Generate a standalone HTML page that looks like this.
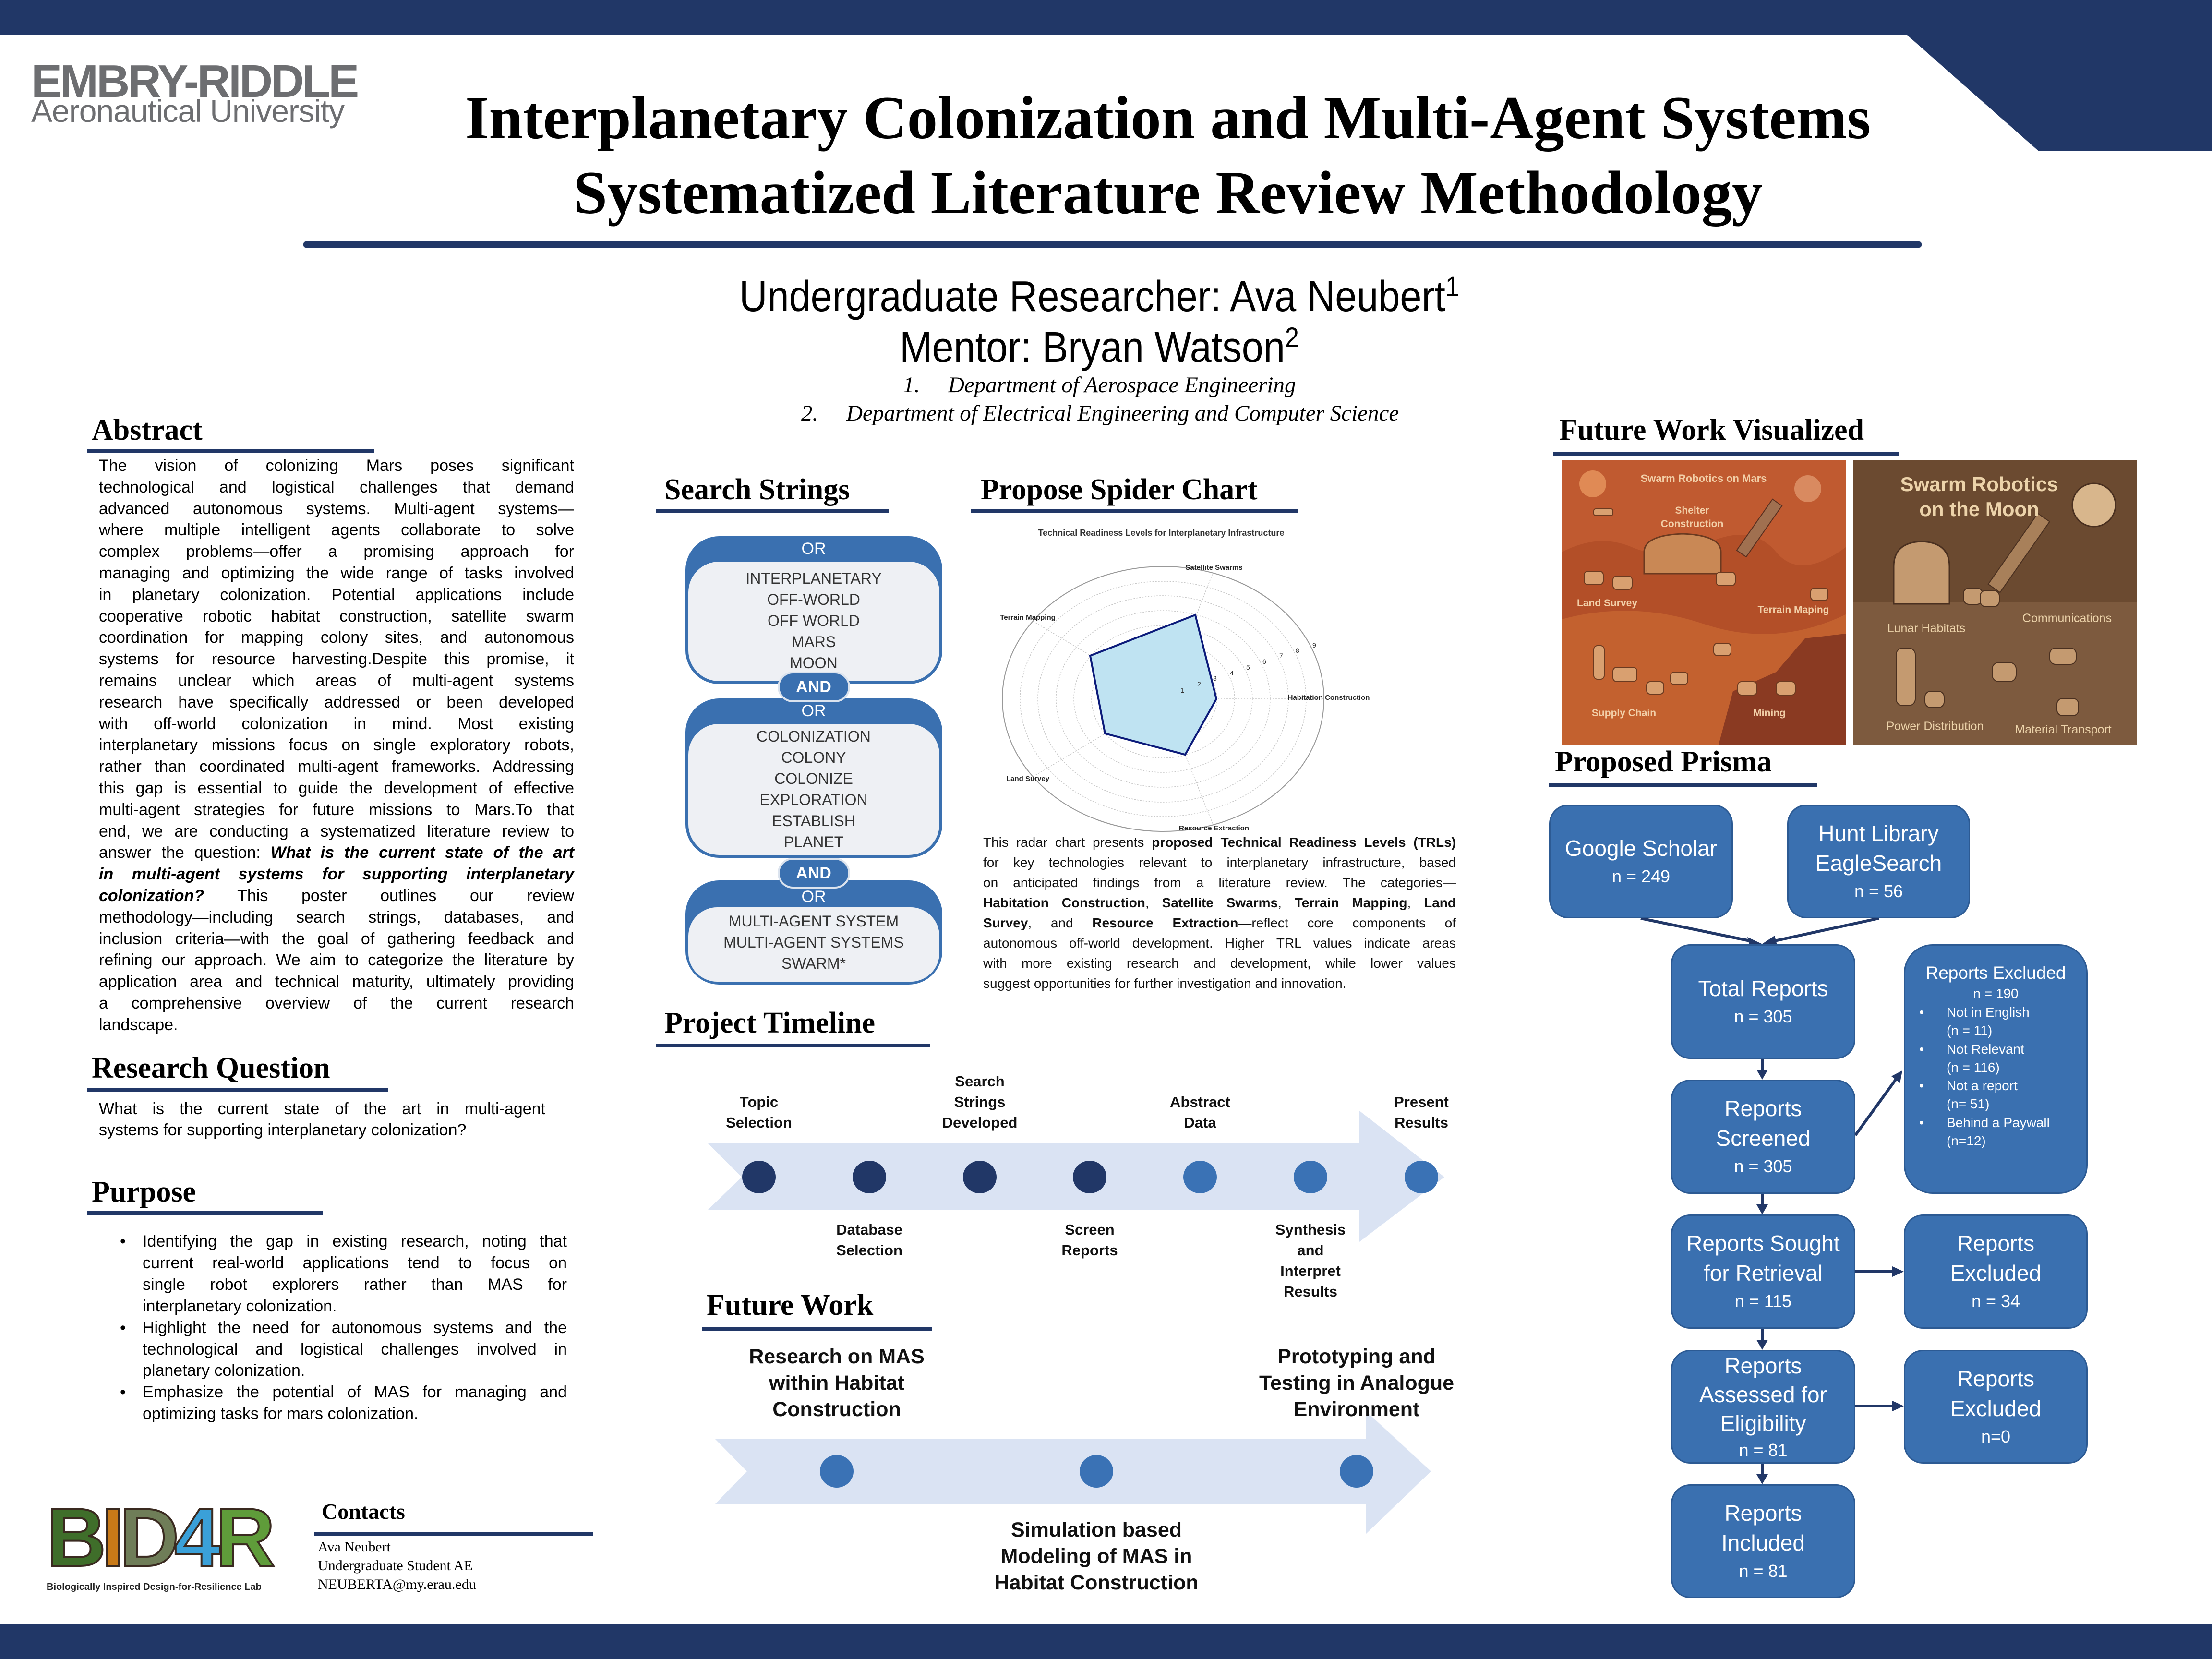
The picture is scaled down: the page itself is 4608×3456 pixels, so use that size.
<!DOCTYPE html>
<html><head><meta charset="utf-8">
<style>
*{margin:0;padding:0;box-sizing:border-box}
body{width:4608px;height:3456px;position:relative;background:#fff;overflow:hidden;font-family:"Liberation Sans",sans-serif;color:#000}
.a{position:absolute;white-space:nowrap}
.c{transform:translateX(-50%);text-align:center}
.h{font-family:"Liberation Serif",serif;font-weight:bold;font-size:62px;line-height:70px}
.j{display:block;text-align:justify;text-align-last:justify;white-space:nowrap}
.l{display:block;text-align:left}
.box{position:absolute;background:#3a70b0;border:3px solid #2c5a93;border-radius:40px;color:#fff;display:flex;flex-direction:column;align-items:center;justify-content:center;text-align:center;font-size:46px;line-height:62px}
.box .n{font-size:36px;line-height:56px}
.sw{font-size:32px;color:#333;line-height:44px;text-align:center}
.tl{font-weight:bold;font-size:31px;line-height:43px;text-align:center;color:#111}
.fw{font-weight:bold;font-size:43px;line-height:55px;text-align:center;color:#111}
</style></head><body>
<svg class="a" style="left:0;top:0" width="4608" height="3456" viewBox="0 0 4608 3456">
<rect x="0" y="0" width="4608" height="73" fill="#213767"/>
<polygon points="3973,73 4608,73 4608,315 4247,315" fill="#213767"/>
<rect x="0" y="3383" width="4608" height="73" fill="#213767"/>
<rect x="632" y="503" width="3371" height="13" rx="5" fill="#213767"/>
<rect x="182" y="936" width="597" height="8" fill="#213767"/>
<rect x="182" y="2266" width="626" height="8" fill="#213767"/>
<rect x="182" y="2523" width="490" height="8" fill="#213767"/>
<rect x="1367" y="1060" width="485" height="8" fill="#213767"/>
<rect x="2022" y="1060" width="682" height="8" fill="#213767"/>
<rect x="1367" y="2174" width="570" height="8" fill="#213767"/>
<rect x="1462" y="2764" width="479" height="8" fill="#213767"/>
<rect x="3236" y="941" width="721" height="8" fill="#213767"/>
<rect x="3227" y="1632" width="559" height="8" fill="#213767"/>
<rect x="655" y="3191" width="580" height="8" fill="#213767"/>
<g>
<rect x="1428" y="1117" width="535" height="308" rx="70" fill="#3a70b0"/>
<rect x="1434" y="1170" width="523" height="249" rx="64" fill="#eef0f4"/>
<rect x="1428" y="1455" width="535" height="332" rx="70" fill="#3a70b0"/>
<rect x="1434" y="1508" width="523" height="273" rx="64" fill="#eef0f4"/>
<rect x="1428" y="1834" width="535" height="217" rx="70" fill="#3a70b0"/>
<rect x="1434" y="1890" width="523" height="155" rx="60" fill="#eef0f4"/>
<rect x="1622" y="1401" width="147" height="60" rx="30" fill="#3a70b0" stroke="#dbe3ee" stroke-width="4"/>
<rect x="1622" y="1789" width="147" height="60" rx="30" fill="#3a70b0" stroke="#dbe3ee" stroke-width="4"/>
</g>
<g fill="none" stroke="#c8c8c8" stroke-width="1.5" stroke-dasharray="3,3">
<ellipse cx="2423" cy="1456" rx="37" ry="31"/><ellipse cx="2423" cy="1456" rx="74" ry="61"/>
<ellipse cx="2423" cy="1456" rx="112" ry="92"/><ellipse cx="2423" cy="1456" rx="149" ry="123"/>
<ellipse cx="2423" cy="1456" rx="186" ry="153"/><ellipse cx="2423" cy="1456" rx="223" ry="184"/>
<ellipse cx="2423" cy="1456" rx="261" ry="215"/><ellipse cx="2423" cy="1456" rx="298" ry="245"/>
<line x1="2423" y1="1456" x2="2758" y2="1456"/><line x1="2423" y1="1456" x2="2527" y2="1193"/>
<line x1="2423" y1="1456" x2="2152" y2="1294"/><line x1="2423" y1="1456" x2="2152" y2="1618"/>
<line x1="2423" y1="1456" x2="2527" y2="1718"/>
</g>
<ellipse cx="2423" cy="1456" rx="335" ry="276" fill="none" stroke="#999" stroke-width="2"/>
<polygon points="2534,1456 2490,1281 2271,1366 2302,1528 2469,1572" fill="#bfe3f2" stroke="#0b1a7a" stroke-width="4"/>
<polygon points="1475,2382 2832,2382 2832,2314 3009,2452 2832,2587 2832,2520 1475,2520 1545,2452" fill="#dae3f3"/>
<g fill="#213767"><ellipse cx="1581" cy="2452" rx="35" ry="34"/><ellipse cx="1811" cy="2452" rx="35" ry="34"/><ellipse cx="2041" cy="2452" rx="35" ry="34"/><ellipse cx="2270" cy="2452" rx="35" ry="34"/></g>
<g fill="#3a72b5"><ellipse cx="2500" cy="2452" rx="35" ry="34"/><ellipse cx="2730" cy="2452" rx="35" ry="34"/><ellipse cx="2961" cy="2452" rx="35" ry="34"/></g>
<polygon points="1489,2997 2846,2997 2846,2940 2981,3065 2846,3195 2846,3134 1489,3134 1556,3065" fill="#dae3f3"/>
<g fill="#3a72b5"><ellipse cx="1743" cy="3065" rx="35" ry="34"/><ellipse cx="2284" cy="3065" rx="35" ry="34"/><ellipse cx="2826" cy="3065" rx="35" ry="34"/></g>
<rect x="3254" y="959" width="591" height="593" fill="#c05a30"/>
<path d="M3254,1150 Q3330,1110 3400,1140 T3560,1130 T3700,1150 T3845,1140 L3845,1552 L3254,1552Z" fill="#b34f28"/>
<path d="M3254,1290 Q3400,1250 3550,1300 T3845,1280 L3845,1552 L3254,1552Z" fill="#c3612f"/>
<path d="M3580,1552 L3610,1440 L3700,1400 L3760,1330 L3845,1320 L3845,1552Z" fill="#8a3a22"/>
<circle cx="3318" cy="1008" r="28" fill="#e08a55"/>
<circle cx="3766" cy="1018" r="28" fill="#d98a60"/>
<path d="M3425,1195 L3425,1150 Q3425,1115 3505,1112 Q3585,1115 3585,1150 L3585,1195Z" fill="#c98855" stroke="#6b3a20" stroke-width="3"/>
<g fill="#d9a070" stroke="#6b3a20" stroke-width="2">
<rect x="3300" y="1190" width="40" height="28" rx="8"/><rect x="3360" y="1200" width="40" height="28" rx="8"/>
<rect x="3575" y="1192" width="40" height="28" rx="8"/><rect x="3772" y="1225" width="36" height="26" rx="8"/>
<rect x="3570" y="1340" width="36" height="26" rx="8"/><rect x="3360" y="1390" width="50" height="30" rx="8"/>
<rect x="3430" y="1420" width="36" height="26" rx="8"/><rect x="3480" y="1400" width="36" height="26" rx="8"/>
<rect x="3620" y="1420" width="40" height="28" rx="8"/><rect x="3700" y="1420" width="40" height="28" rx="8"/>
<rect x="3320" y="1345" width="22" height="70" rx="8"/>
<rect x="3320" y="1060" width="40" height="14" rx="4"/>
</g>
<g transform="rotate(-55 3665 1100)"><rect x="3600" y="1088" width="130" height="24" fill="#a07050" stroke="#5a3020" stroke-width="2"/></g>
<rect x="3861" y="959" width="591" height="593" fill="#6b4a30"/>
<rect x="3861" y="1254" width="591" height="298" fill="#7d5a3e"/>
<circle cx="4362" cy="1052" r="45" fill="#d8b68c" stroke="#4a3020" stroke-width="3"/>
<path d="M3945,1258 L3945,1180 Q3945,1130 4003,1128 Q4061,1130 4061,1180 L4061,1258Z" fill="#c49a70" stroke="#4a3020" stroke-width="3"/>
<g transform="rotate(-55 4200 1160)"><rect x="4120" y="1145" width="180" height="30" fill="#a8805a" stroke="#4a3020" stroke-width="2"/></g>
<g fill="#c49a70" stroke="#4a3020" stroke-width="2">
<rect x="4090" y="1225" width="40" height="34" rx="12"/><rect x="4125" y="1230" width="40" height="34" rx="12"/>
<rect x="3950" y="1350" width="40" height="120" rx="14"/><rect x="4010" y="1440" width="40" height="34" rx="12"/>
<rect x="4150" y="1380" width="50" height="40" rx="14"/><rect x="4270" y="1350" width="55" height="34" rx="12"/>
<rect x="4285" y="1455" width="45" height="36" rx="12"/>
</g>
<g stroke="#213767" stroke-width="6" fill="none">
<line x1="3418" y1="1913" x2="3655" y2="1962"/><line x1="3914" y1="1913" x2="3688" y2="1962"/>
<line x1="3671" y1="2206" x2="3671" y2="2232"/><line x1="3671" y1="2487" x2="3671" y2="2513"/>
<line x1="3671" y1="2768" x2="3671" y2="2795"/><line x1="3671" y1="3049" x2="3671" y2="3075"/>
<line x1="3865" y1="2365" x2="3952" y2="2245"/>
<line x1="3865" y1="2649" x2="3945" y2="2649"/><line x1="3865" y1="2929" x2="3945" y2="2929"/>
</g>
<g fill="#213767">
<polygon points="3672,1967 3640,1952 3645,1972"/><polygon points="3670,1967 3697,1949 3702,1969"/>
<polygon points="3671,2249 3659,2228 3683,2228"/><polygon points="3671,2530 3659,2509 3683,2509"/>
<polygon points="3671,2812 3659,2791 3683,2791"/><polygon points="3671,3092 3659,3071 3683,3071"/>
<polygon points="3963,2230 3940,2242 3958,2256"/>
<polygon points="3966,2649 3942,2638 3942,2660"/><polygon points="3966,2929 3942,2918 3942,2940"/>
</g>
</svg>

<div class="a" style="left:65px;top:128px;font-size:96px;font-weight:bold;color:#6d6e71;letter-spacing:-4px;line-height:84px;transform-origin:0 0;transform:scaleX(1.0)">EMBRY-RIDDLE</div>
<div class="a" style="left:65px;top:198px;font-size:66px;color:#6d6e71;line-height:66px;letter-spacing:-1px">Aeronautical University</div>
<div class="a c h" style="left:2433px;top:173px;font-size:127px;line-height:146px">Interplanetary Colonization and Multi-Agent Systems</div>
<div class="a c h" style="left:2433px;top:329px;font-size:127px;line-height:146px">Systematized Literature Review Methodology</div>
<div class="a" style="left:2290px;top:548px;font-size:90px;line-height:100px;transform:translateX(-50%) scaleX(0.9)">Undergraduate Researcher: Ava Neubert<sup style="font-size:58px">1</sup></div>
<div class="a" style="left:2290px;top:654px;font-size:90px;line-height:100px;transform:translateX(-50%) scaleX(0.9)">Mentor: Bryan Watson<sup style="font-size:58px">2</sup></div>
<div class="a" style="left:1881px;top:776px;font-family:'Liberation Serif',serif;font-style:italic;font-size:47px;line-height:52px">1.&nbsp;&nbsp;&nbsp;&nbsp;&nbsp;Department of Aerospace Engineering</div>
<div class="a" style="left:1669px;top:835px;font-family:'Liberation Serif',serif;font-style:italic;font-size:47px;line-height:52px">2.&nbsp;&nbsp;&nbsp;&nbsp;&nbsp;Department of Electrical Engineering and Computer Science</div>

<div class="a h" style="left:191px;top:861px">Abstract</div>
<div class="a" style="left:206px;top:948px;width:990px;font-size:34px;line-height:44.8px">
<span class="j">The vision of colonizing Mars poses significant</span>
<span class="j">technological and logistical challenges that demand</span>
<span class="j">advanced autonomous systems. Multi-agent systems—</span>
<span class="j">where multiple intelligent agents collaborate to solve</span>
<span class="j">complex problems—offer a promising approach for</span>
<span class="j">managing and optimizing the wide range of tasks involved</span>
<span class="j">in planetary colonization. Potential applications include</span>
<span class="j">cooperative robotic habitat construction, satellite swarm</span>
<span class="j">coordination for mapping colony sites, and autonomous</span>
<span class="j">systems for resource harvesting.Despite this promise, it</span>
<span class="j">remains unclear which areas of multi-agent systems</span>
<span class="j">research have specifically addressed or been developed</span>
<span class="j">with off-world colonization in mind. Most existing</span>
<span class="j">interplanetary missions focus on single exploratory robots,</span>
<span class="j">rather than coordinated multi-agent frameworks. Addressing</span>
<span class="j">this gap is essential to guide the development of effective</span>
<span class="j">multi-agent strategies for future missions to Mars.To that</span>
<span class="j">end, we are conducting a systematized literature review to</span>
<span class="j">answer the question: <b><i>What is the current state of the art</i></b></span>
<span class="j"><b><i>in multi-agent systems for supporting interplanetary</i></b></span>
<span class="j"><b><i>colonization?</i></b> This poster outlines our review</span>
<span class="j">methodology—including search strings, databases, and</span>
<span class="j">inclusion criteria—with the goal of gathering feedback and</span>
<span class="j">refining our approach. We aim to categorize the literature by</span>
<span class="j">application area and technical maturity, ultimately providing</span>
<span class="j">a comprehensive overview of the current research</span>
<span class="l">landscape.</span>
</div>
<div class="a h" style="left:191px;top:2190px">Research Question</div>
<div class="a" style="left:206px;top:2288px;width:930px;font-size:34px;line-height:44px">
<span class="j">What is the current state of the art in multi-agent</span>
<span class="l">systems for supporting interplanetary colonization?</span>
</div>
<div class="a h" style="left:191px;top:2448px">Purpose</div>
<div class="a" style="left:250px;top:2564px;font-size:34px;line-height:44.9px">•<br><br><br><br>•<br><br><br>•</div>
<div class="a" style="left:297px;top:2564px;width:884px;font-size:34px;line-height:44.9px">
<span class="j">Identifying the gap in existing research, noting that</span>
<span class="j">current real-world applications tend to focus on</span>
<span class="j">single robot explorers rather than MAS for</span>
<span class="l">interplanetary colonization.</span>
<span class="j">Highlight the need for autonomous systems and the</span>
<span class="j">technological and logistical challenges involved in</span>
<span class="l">planetary colonization.</span>
<span class="j">Emphasize the potential of MAS for managing and</span>
<span class="l">optimizing tasks for mars colonization.</span>
</div>
<div class="a" style="left:97px;top:3118px;font-size:172px;font-weight:bold;line-height:170px;letter-spacing:-10px;-webkit-text-stroke:4px #3a2a20"><span style="color:#3f6e2a">B</span><span style="color:#c97a18">I</span><span style="color:#6f7d58">D</span><span style="color:#3aa0d8">4</span><span style="color:#5f9c3a">R</span></div>
<div class="a" style="left:97px;top:3292px;font-size:20px;font-weight:bold;line-height:28px;color:#222">Biologically Inspired Design-for-Resilience Lab</div>
<div class="a" style="left:670px;top:3124px;font-family:'Liberation Serif',serif;font-weight:bold;font-size:46px;line-height:50px">Contacts</div>
<div class="a" style="left:662px;top:3203px;font-family:'Liberation Serif',serif;font-size:30px;line-height:39px">Ava Neubert<br>Undergraduate Student AE<br>NEUBERTA@my.erau.edu</div>

<div class="a h" style="left:1384px;top:985px">Search Strings</div>
<div class="a h" style="left:2043px;top:985px">Propose Spider Chart</div>
<div class="a" style="left:1695px;top:1121px;transform:translateX(-50%);font-size:34px;color:#fff;line-height:44px">OR</div>
<div class="a sw" style="left:1695px;top:1183px;transform:translateX(-50%)">INTERPLANETARY<br>OFF-WORLD<br>OFF WORLD<br>MARS<br>MOON</div>
<div class="a" style="left:1695px;top:1409px;transform:translateX(-50%);font-size:34px;font-weight:bold;color:#fff;line-height:44px">AND</div>
<div class="a" style="left:1695px;top:1459px;transform:translateX(-50%);font-size:34px;color:#fff;line-height:44px">OR</div>
<div class="a sw" style="left:1695px;top:1512px;transform:translateX(-50%)">COLONIZATION<br>COLONY<br>COLONIZE<br>EXPLORATION<br>ESTABLISH<br>PLANET</div>
<div class="a" style="left:1695px;top:1797px;transform:translateX(-50%);font-size:34px;font-weight:bold;color:#fff;line-height:44px">AND</div>
<div class="a" style="left:1695px;top:1846px;transform:translateX(-50%);font-size:34px;color:#fff;line-height:44px">OR</div>
<div class="a sw" style="left:1695px;top:1897px;transform:translateX(-50%)">MULTI-AGENT SYSTEM<br>MULTI-AGENT SYSTEMS<br>SWARM*</div>

<div class="a" style="left:2419px;top:1100px;transform:translateX(-50%);font-size:18px;font-weight:bold;color:#333">Technical Readiness Levels for Interplanetary Infrastructure</div>
<div style="font-size:15px;font-weight:bold;color:#222">
<div class="a" style="left:2529px;top:1174px;transform:translateX(-50%)">Satellite Swarms</div>
<div class="a" style="left:2141px;top:1278px;transform:translateX(-50%)">Terrain Mapping</div>
<div class="a" style="left:2768px;top:1445px;transform:translateX(-50%)">Habitation Construction</div>
<div class="a" style="left:2141px;top:1614px;transform:translateX(-50%)">Land Survey</div>
<div class="a" style="left:2529px;top:1717px;transform:translateX(-50%)">Resource Extraction</div>
</div>
<div style="font-size:14px;color:#333">
<div class="a" style="left:2459px;top:1430px">1</div><div class="a" style="left:2494px;top:1417px">2</div>
<div class="a" style="left:2527px;top:1405px">3</div><div class="a" style="left:2562px;top:1394px">4</div>
<div class="a" style="left:2596px;top:1382px">5</div><div class="a" style="left:2630px;top:1370px">6</div>
<div class="a" style="left:2665px;top:1358px">7</div><div class="a" style="left:2699px;top:1347px">8</div>
<div class="a" style="left:2734px;top:1336px">9</div>
</div>
<div class="a" style="left:2048px;top:1734px;width:985px;font-size:28px;line-height:42px;color:#111">
<span class="j">This radar chart presents <b>proposed Technical Readiness Levels (TRLs)</b></span>
<span class="j">for key technologies relevant to interplanetary infrastructure, based</span>
<span class="j">on anticipated findings from a literature review. The categories—</span>
<span class="j"><b>Habitation Construction</b>, <b>Satellite Swarms</b>, <b>Terrain Mapping</b>, <b>Land</b></span>
<span class="j"><b>Survey</b>, and <b>Resource Extraction</b>—reflect core components of</span>
<span class="j">autonomous off-world development. Higher TRL values indicate areas</span>
<span class="j">with more existing research and development, while lower values</span>
<span class="l">suggest opportunities for further investigation and innovation.</span>
</div>

<div class="a h" style="left:1384px;top:2096px">Project Timeline</div>
<div class="a tl" style="left:1581px;top:2274px;transform:translateX(-50%)">Topic<br>Selection</div>
<div class="a tl" style="left:2041px;top:2231px;transform:translateX(-50%)">Search<br>Strings<br>Developed</div>
<div class="a tl" style="left:2500px;top:2274px;transform:translateX(-50%)">Abstract<br>Data</div>
<div class="a tl" style="left:2961px;top:2274px;transform:translateX(-50%)">Present<br>Results</div>
<div class="a tl" style="left:1811px;top:2540px;transform:translateX(-50%)">Database<br>Selection</div>
<div class="a tl" style="left:2270px;top:2540px;transform:translateX(-50%)">Screen<br>Reports</div>
<div class="a tl" style="left:2730px;top:2540px;transform:translateX(-50%)">Synthesis<br>and<br>Interpret<br>Results</div>

<div class="a h" style="left:1472px;top:2684px">Future Work</div>
<div class="a fw" style="left:1743px;top:2799px;transform:translateX(-50%)">Research on MAS<br>within Habitat<br>Construction</div>
<div class="a fw" style="left:2826px;top:2799px;transform:translateX(-50%)">Prototyping and<br>Testing in Analogue<br>Environment</div>
<div class="a fw" style="left:2284px;top:3160px;transform:translateX(-50%)">Simulation based<br>Modeling of MAS in<br>Habitat Construction</div>

<div class="a h" style="left:3248px;top:861px">Future Work Visualized</div>
<div style="font-weight:bold;color:#f2cfa8">
<div class="a" style="left:3549px;top:984px;transform:translateX(-50%);font-size:22px">Swarm Robotics on Mars</div>
<div class="a" style="left:3525px;top:1050px;transform:translateX(-50%);font-size:21px;line-height:28px;text-align:center">Shelter<br>Construction</div>
<div class="a" style="left:3348px;top:1245px;transform:translateX(-50%);font-size:21px">Land Survey</div>
<div class="a" style="left:3736px;top:1259px;transform:translateX(-50%);font-size:21px">Terrain Maping</div>
<div class="a" style="left:3383px;top:1474px;transform:translateX(-50%);font-size:21px">Supply Chain</div>
<div class="a" style="left:3686px;top:1474px;transform:translateX(-50%);font-size:21px">Mining</div>
</div>
<div style="color:#ecd3aa">
<div class="a" style="left:4123px;top:983px;transform:translateX(-50%);font-size:42px;font-weight:bold;line-height:52px;text-align:center">Swarm Robotics<br>on the Moon</div>
<div class="a" style="left:4013px;top:1295px;transform:translateX(-50%);font-size:25px">Lunar Habitats</div>
<div class="a" style="left:4306px;top:1274px;transform:translateX(-50%);font-size:25px">Communications</div>
<div class="a" style="left:4031px;top:1499px;transform:translateX(-50%);font-size:25px">Power Distribution</div>
<div class="a" style="left:4298px;top:1506px;transform:translateX(-50%);font-size:25px">Material Transport</div>
</div>

<div class="a h" style="left:3239px;top:1552px">Proposed Prisma</div>
<div class="box" style="left:3227px;top:1676px;width:383px;height:237px">Google Scholar<span class="n">n = 249</span></div>
<div class="box" style="left:3723px;top:1676px;width:381px;height:237px">Hunt Library<br>EagleSearch<span class="n">n = 56</span></div>
<div class="box" style="left:3481px;top:1967px;width:384px;height:239px">Total Reports<span class="n">n = 305</span></div>
<div class="box" style="left:3481px;top:2249px;width:384px;height:238px">Reports<br>Screened<span class="n">n = 305</span></div>
<div class="box" style="left:3481px;top:2530px;width:384px;height:238px">Reports Sought<br>for Retrieval<span class="n">n = 115</span></div>
<div class="box" style="left:3481px;top:2812px;width:384px;height:237px;line-height:60px">Reports<br>Assessed for<br>Eligibility<span class="n" style="line-height:52px">n = 81</span></div>
<div class="box" style="left:3481px;top:3092px;width:384px;height:237px">Reports<br>Included<span class="n">n = 81</span></div>
<div class="box" style="left:3966px;top:2530px;width:383px;height:238px">Reports<br>Excluded<span class="n">n = 34</span></div>
<div class="box" style="left:3966px;top:2812px;width:383px;height:237px">Reports<br>Excluded<span class="n">n=0</span></div>
<div class="box" style="left:3966px;top:1967px;width:383px;height:520px;justify-content:flex-start;align-items:stretch;padding-top:34px;border-radius:60px">
<div style="font-size:37px;line-height:46px;text-align:center">Reports Excluded</div>
<div style="font-size:28px;line-height:40px;text-align:center">n = 190</div>
<div style="font-size:28px;line-height:38.3px;text-align:left;padding-left:29px;position:relative">
<div style="position:absolute;left:29px;top:0">•<br><br>•<br><br>•<br><br>•</div>
<div style="padding-left:57px">Not in English<br>(n = 11)<br>Not Relevant<br>(n = 116)<br>Not a report<br>(n= 51)<br>Behind a Paywall<br>(n=12)</div>
</div>
</div>
</body></html>
